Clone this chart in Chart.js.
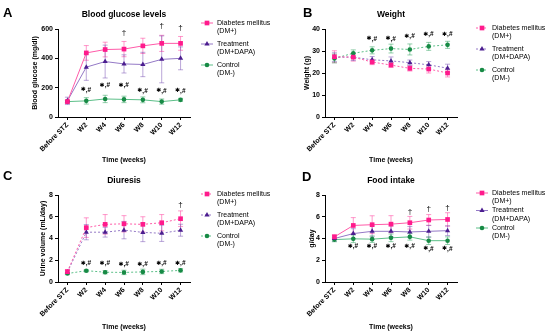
<!DOCTYPE html>
<html>
<head>
<meta charset="utf-8">
<script src="https://cdn.jsdelivr.net/npm/chart.js@4"></script>
<style>
  html, body { margin: 0; padding: 0; background: #fff; }
  #wrap { position: relative; width: 550px; height: 333px; overflow: hidden; }
  canvas { position: absolute; }
</style>
</head>
<body>
<div id="wrap">
  <canvas id="chartA" width="275" height="166" style="left:0;top:0"></canvas>
  <canvas id="chartB" width="275" height="166" style="left:275px;top:0"></canvas>
  <canvas id="chartC" width="275" height="167" style="left:0;top:166px"></canvas>
  <canvas id="chartD" width="275" height="167" style="left:275px;top:166px"></canvas>
</div>
<script>
const categories = ['Before STZ', 'W2', 'W4', 'W6', 'W8', 'W10', 'W12'];
const seriesNames = ['Diabetes mellitus\n(DM+)', 'Treatment\n(DM+DAPA)', 'Control\n(DM-)'];

// A - blood glucose (mg/dl)
const glucoseDM = [105, 437, 460, 463, 485, 502, 502];
const glucoseDMErr = [10, 50, 50, 52, 52, 55, 47];
const glucoseTrt = [110, 340, 378, 362, 358, 393, 400];
const glucoseTrtErr = [25, 90, 112, 62, 83, 160, 78];
const glucoseCtl = [105, 110, 123, 120, 117, 105, 117];
const glucoseCtlErr = [8, 22, 25, 22, 20, 18, 10];
const glucoseStars = [null, 185, 215, 215, 178, 178, 178];
const glucoseDaggers = [null, null, null, 572, null, 622, 610];

// B - weight (g)
const weightDM = [27.4, 27.2, 25.0, 23.6, 22.1, 21.8, 20.0];
const weightDMErr = [2.7, 1.8, 1.2, 1.0, 1.2, 1.8, 1.8];
const weightTrt = [27.2, 27.2, 26.0, 25.5, 24.7, 23.7, 22.2];
const weightTrtErr = [2.0, 1.5, 1.5, 1.8, 1.2, 1.5, 1.8];
const weightCtl = [26.6, 29.0, 30.3, 31.1, 30.7, 32.1, 32.8];
const weightCtlErr = [2.0, 1.5, 1.6, 2.0, 2.5, 1.8, 1.6];
const weightStars = [null, null, 35.5, 35.5, 36.7, 37.6, 37.6];
const weightDaggers = [null, null, null, null, null, null, null];

// C - urine volume (mL/day)
const urineDM = [0.95, 5.0, 5.3, 5.35, 5.3, 5.45, 5.82];
const urineDMErr = [0.2, 0.9, 0.9, 0.75, 0.7, 0.75, 0.72];
const urineTrt = [0.9, 4.58, 4.58, 4.77, 4.56, 4.48, 4.76];
const urineTrtErr = [0.15, 0.7, 0.45, 0.8, 0.85, 0.75, 0.55];
const urineCtl = [0.78, 1.04, 0.9, 0.88, 0.93, 0.97, 1.07];
const urineCtlErr = [0.1, 0.1, 0.15, 0.2, 0.25, 0.2, 0.15];
const urineStars = [null, 1.75, 1.75, 1.65, 1.65, 1.75, 1.75];
const urineDaggers = [null, null, null, null, null, null, 7.1];

// D - food intake (g/day)
const foodDM = [4.15, 5.2, 5.27, 5.32, 5.45, 5.7, 5.75];
const foodDMErr = [0.2, 0.72, 0.82, 0.78, 0.58, 0.5, 0.62];
const foodTrt = [4.0, 4.45, 4.66, 4.66, 4.6, 4.66, 4.72];
const foodTrtErr = [0.25, 0.45, 0.5, 0.5, 0.5, 0.55, 0.45];
const foodCtl = [3.9, 3.97, 3.94, 4.06, 4.15, 3.8, 3.8];
const foodCtlErr = [0.2, 0.35, 0.3, 0.35, 0.3, 0.35, 0.35];
const foodStars = [null, 3.3, 3.3, 3.3, 3.3, 3.05, 3.05];
const foodDaggers = [null, null, null, null, 6.5, 6.75, 6.85];

const FONT = "'Liberation Sans', Arial, sans-serif";
const looks = [
  { marker: '#ff1a8c', line: '#ff5aa8', err: 'rgba(255,70,160,0.55)', style: 'rect', r: 3.3 },
  { marker: '#4b1d8f', line: '#9479c6', err: 'rgba(120,80,180,0.5)', style: 'triangle', r: 3 },
  { marker: '#178a45', line: '#5cbf88', err: 'rgba(40,160,90,0.5)', style: 'circle', r: 2.3 }
];

function drawMarker(ctx, style, x, y, r, color) {
  ctx.fillStyle = color;
  ctx.beginPath();
  if (style === 'rect') {
    const s = r * Math.SQRT1_2;
    ctx.rect(x - s, y - s, 2 * s, 2 * s);
  } else if (style === 'triangle') {
    ctx.moveTo(x, y - r);
    ctx.lineTo(x + r * 0.87, y + r * 0.5);
    ctx.lineTo(x - r * 0.87, y + r * 0.5);
    ctx.closePath();
  } else {
    ctx.arc(x, y, r, 0, Math.PI * 2);
  }
  ctx.fill();
}

const deco = {
  id: 'deco',
  beforeDatasetsDraw(chart) {
    const ctx = chart.ctx;
    const y = chart.scales.y;
    chart.data.datasets.forEach(function (ds, i) {
      const meta = chart.getDatasetMeta(i);
      ctx.save();
      ctx.strokeStyle = ds.errColor;
      ctx.lineWidth = 1;
      meta.data.forEach(function (pt, j) {
        const e = ds.errors[j];
        const top = y.getPixelForValue(ds.data[j] + e);
        const bot = y.getPixelForValue(ds.data[j] - e);
        ctx.beginPath();
        ctx.moveTo(pt.x, top); ctx.lineTo(pt.x, bot);
        ctx.moveTo(pt.x - 2.5, top); ctx.lineTo(pt.x + 2.5, top);
        ctx.moveTo(pt.x - 2.5, bot); ctx.lineTo(pt.x + 2.5, bot);
        ctx.stroke();
      });
      ctx.restore();
    });
  },
  afterDraw(chart, args, opts) {
    const ctx = chart.ctx;
    const area = chart.chartArea;
    const x = chart.scales.x;
    const y = chart.scales.y;
    ctx.save();
    ctx.fillStyle = '#000';
    ctx.textBaseline = 'alphabetic';
    ctx.textAlign = 'left';
    ctx.font = 'bold 13px ' + FONT;
    ctx.fillText(opts.letter, opts.letterX, opts.letterY);

    ctx.textAlign = 'center';
    ctx.textBaseline = 'middle';
    ctx.font = 'bold 8.5px ' + FONT;
    ctx.fillText(opts.title, (area.left + area.right) / 2, 15);

    // significance marks
    opts.stars.forEach(function (v, j) {
      if (v === null) return;
      const px = x.getPixelForValue(j);
      const py = y.getPixelForValue(v);
      ctx.font = "bold 6px 'DejaVu Sans', " + FONT;
      ctx.textAlign = 'right';
      ctx.fillText('\u2731', px - 0.5, py);
      ctx.font = 'bold 6.5px ' + FONT;
      ctx.textAlign = 'left';
      ctx.fillText(',#', px - 0.5, py);
    });
    ctx.textAlign = 'center';
    ctx.font = '8px ' + FONT;
    opts.daggers.forEach(function (v, j) {
      if (v === null) return;
      ctx.fillText('\u2020', x.getPixelForValue(j), y.getPixelForValue(v));
    });

    // legend
    ctx.textAlign = 'left';
    ctx.font = '7px ' + FONT;
    chart.data.datasets.forEach(function (ds, i) {
      const ly = opts.legY + i * opts.legGap;
      ctx.strokeStyle = ds.borderColor;
      ctx.lineWidth = 1;
      ctx.setLineDash(ds.borderDash || []);
      ctx.beginPath();
      ctx.moveTo(201, ly); ctx.lineTo(213, ly);
      ctx.stroke();
      ctx.setLineDash([]);
      drawMarker(ctx, looks[i].style, 207, ly, looks[i].r, looks[i].marker);
      ctx.fillStyle = '#000';
      seriesNames[i].split('\n').forEach(function (t, k) {
        ctx.fillText(t, 217, ly + k * 8.5);
      });
    });
    ctx.restore();
  }
};

function makeSets(values, errs, dash) {
  return values.map(function (v, i) {
    return {
      label: seriesNames[i],
      data: v,
      errors: errs[i],
      errColor: looks[i].err,
      borderColor: looks[i].line,
      backgroundColor: looks[i].marker,
      pointBackgroundColor: looks[i].marker,
      pointBorderColor: looks[i].marker,
      pointBorderWidth: 0,
      pointStyle: looks[i].style,
      pointRadius: looks[i].r,
      borderWidth: 1,
      borderDash: dash,
      tension: 0
    };
  });
}

function panel(id, o) {
  const tickFont = { family: FONT, size: 7, weight: 'bold' };
  return new Chart(document.getElementById(id), {
    type: 'line',
    data: {
      labels: categories,
      datasets: makeSets(o.values, o.errs, o.dash)
    },
    options: {
      responsive: false,
      animation: false,
      events: [],
      layout: { padding: { top: 29, right: o.right, left: 0, bottom: 0 } },
      plugins: {
        legend: { display: false },
        tooltip: { enabled: false },
        deco: o.deco
      },
      scales: {
        x: {
          offset: true,
          ticks: { minRotation: 45, maxRotation: 45, autoSkip: false, color: '#000', font: tickFont, padding: 1 },
          grid: { drawOnChartArea: false, tickLength: 3, color: '#000', offset: false },
          border: { color: '#000', width: 1 },
          title: { display: true, text: 'Time (weeks)', color: '#000', font: { family: FONT, size: 7, weight: 'bold' }, padding: { top: 0, bottom: 2 } },
          afterFit: function (s) { s.height = o.xh; }
        },
        y: {
          min: 0,
          max: o.max,
          ticks: { stepSize: o.step, color: '#000', font: tickFont, padding: 2 },
          grid: { drawOnChartArea: false, tickLength: 3, color: '#000' },
          border: { color: '#000', width: 1 },
          title: { display: true, text: o.ytitle, color: '#000', font: { family: FONT, size: 7, weight: 'bold' }, padding: { top: o.ytx - 4.2, bottom: 0 } },
          afterFit: function (s) { s.width = o.yw; }
        }
      }
    },
    plugins: [deco]
  });
}

panel('chartA', {
  values: [glucoseDM, glucoseTrt, glucoseCtl],
  errs: [glucoseDMErr, glucoseTrtErr, glucoseCtlErr],
  dash: [], max: 600, step: 200, yw: 58, ytx: 35, right: 85, xh: 49,
  ytitle: 'Blood glucose (mg/dl)',
  deco: { letter: 'A', letterX: 3, letterY: 17, title: 'Blood glucose levels', stars: glucoseStars, daggers: glucoseDaggers, legY: 23, legGap: 21 }
});

panel('chartB', {
  values: [weightDM, weightTrt, weightCtl],
  errs: [weightDMErr, weightTrtErr, weightCtlErr],
  dash: [2, 2], max: 40, step: 10, yw: 50, ytx: 32, right: 93, xh: 49,
  ytitle: 'Weight (g)',
  deco: { letter: 'B', letterX: 28, letterY: 17, title: 'Weight', stars: weightStars, daggers: weightDaggers, legY: 28, legGap: 21 }
});

panel('chartC', {
  values: [urineDM, urineTrt, urineCtl],
  errs: [urineDMErr, urineTrtErr, urineCtlErr],
  dash: [2, 2], max: 8, step: 2, yw: 58, ytx: 43, right: 85, xh: 51,
  ytitle: 'Urine volume (mL/day)',
  deco: { letter: 'C', letterX: 3, letterY: 14, title: 'Diuresis', stars: urineStars, daggers: urineDaggers, legY: 28, legGap: 21 }
});

panel('chartD', {
  values: [foodDM, foodTrt, foodCtl],
  errs: [foodDMErr, foodTrtErr, foodCtlErr],
  dash: [], max: 8, step: 2, yw: 50, ytx: 37, right: 93, xh: 51,
  ytitle: 'g/day',
  deco: { letter: 'D', letterX: 27, letterY: 15, title: 'Food intake', stars: foodStars, daggers: foodDaggers, legY: 27, legGap: 17.5 }
});
</script>
</body>
</html>
